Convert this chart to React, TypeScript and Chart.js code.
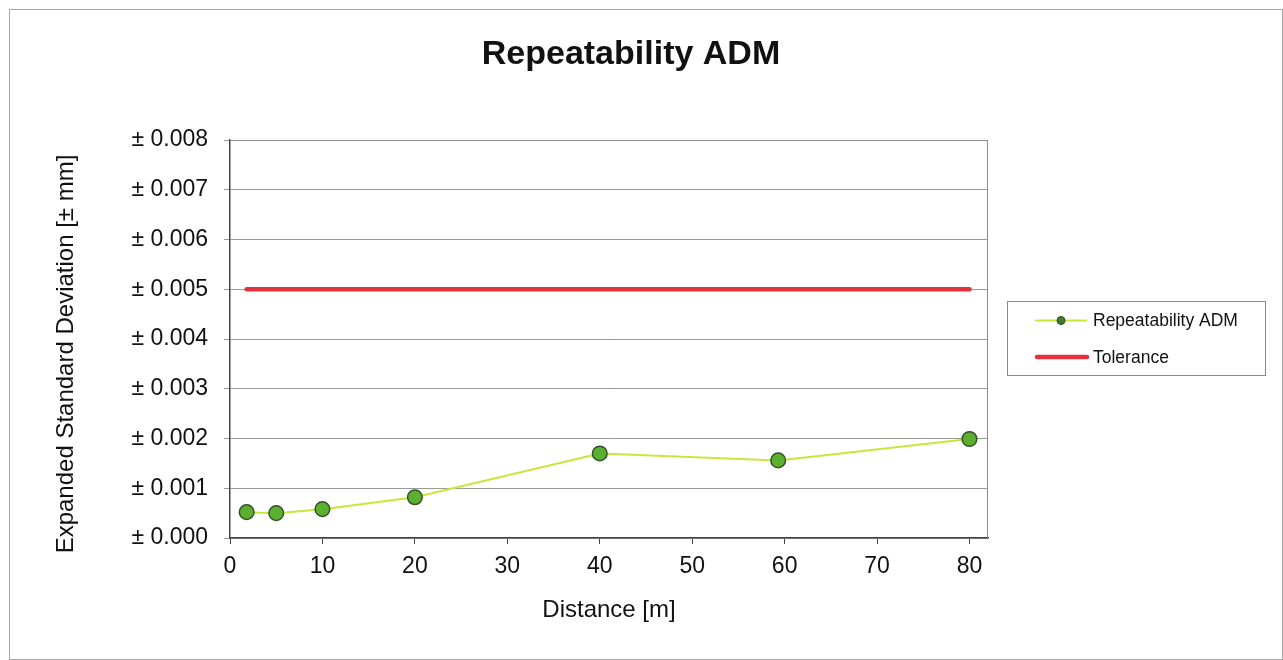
import React, { useEffect, useRef } from "react";
import { Chart, registerables } from "chart.js";

Chart.register(...registerables);

const chartTitle = "Repeatability ADM";
const xAxisTitle = "Distance [m]";
const yAxisTitle = "Expanded Standard Deviation [± mm]";

const xTickValues = [0, 10, 20, 30, 40, 50, 60, 70, 80];

const distances = [1.8, 5, 10, 20, 40, 59.3, 80];
const repeatability = [0.00052, 0.0005, 0.00058, 0.00082, 0.0017, 0.00156, 0.00199];

const toleranceDistances = [1.8, 80];
const toleranceValues = [0.005, 0.005];

const seriesNames = ["Repeatability ADM", "Tolerance"];

const FONT = "Arial, 'Liberation Sans', sans-serif";
const LINE_COLOR = "#c8e63c";
const MARKER_FILL = "#5cb030";
const MARKER_BORDER = "#34502a";
const TOL_COLOR = "#e2333d";

const plotFramePlugin = {
  id: "plotFrame",
  beforeDatasetsDraw(chart: any) {
    const { ctx, chartArea } = chart;
    ctx.save();
    ctx.strokeStyle = "#8c8c8c";
    ctx.lineWidth = 1;
    ctx.beginPath();
    ctx.moveTo(chartArea.left, chartArea.top + 0.5);
    ctx.lineTo(chartArea.right - 0.5, chartArea.top + 0.5);
    ctx.lineTo(chartArea.right - 0.5, chartArea.bottom);
    ctx.stroke();
    ctx.restore();
  },
};

const yTitlePlugin = {
  id: "yTitle",
  afterDraw(chart: any) {
    const { ctx } = chart;
    ctx.save();
    ctx.translate(56, 344);
    ctx.rotate(-Math.PI / 2);
    ctx.fillStyle = "#111";
    ctx.font = `24px ${FONT}`;
    ctx.textAlign = "center";
    ctx.textBaseline = "middle";
    ctx.fillText(yAxisTitle, 0, 0);
    ctx.restore();
  },
};

const customLegendPlugin = {
  id: "customLegend",
  afterDraw(chart: any) {
    const { ctx } = chart;
    const ds = chart.data.datasets;
    ctx.save();
    ctx.strokeStyle = "#8a8a8a";
    ctx.lineWidth = 1;
    ctx.strokeRect(997.5, 291.5, 258, 74);

    // entry 1
    const y1 = 310.5;
    ctx.strokeStyle = ds[0].borderColor;
    ctx.lineWidth = 2;
    ctx.beginPath();
    ctx.moveTo(1025, y1);
    ctx.lineTo(1077, y1);
    ctx.stroke();
    ctx.fillStyle = "#3f7a2e";
    ctx.strokeStyle = "#2c4a22";
    ctx.lineWidth = 1;
    ctx.beginPath();
    ctx.arc(1051, y1, 4, 0, Math.PI * 2);
    ctx.fill();
    ctx.stroke();

    // entry 2
    const y2 = 347;
    ctx.strokeStyle = ds[1].borderColor;
    ctx.lineWidth = 4.5;
    ctx.lineCap = "round";
    ctx.beginPath();
    ctx.moveTo(1027, y2);
    ctx.lineTo(1077, y2);
    ctx.stroke();

    ctx.fillStyle = "#111";
    ctx.font = `17.5px ${FONT}`;
    ctx.textBaseline = "middle";
    ctx.textAlign = "left";
    ctx.fillText(ds[0].label, 1083, y1 + 1);
    ctx.fillText(ds[1].label, 1083, y2 + 1);
    ctx.restore();
  },
};

export default function App() {
  const canvasRef = useRef<HTMLCanvasElement | null>(null);

  useEffect(() => {
    if (!canvasRef.current) return;
    const chart = new Chart(canvasRef.current, {
      type: "scatter",
      data: {
        datasets: [
          {
            label: seriesNames[0],
            data: distances.map((d, i) => ({ x: d, y: repeatability[i] })),
            showLine: true,
            borderColor: LINE_COLOR,
            borderWidth: 2,
            pointBackgroundColor: MARKER_FILL,
            pointBorderColor: MARKER_BORDER,
            pointBorderWidth: 1.5,
            pointRadius: 7.3,
            tension: 0,
            order: 1,
          },
          {
            label: seriesNames[1],
            data: toleranceDistances.map((d, i) => ({ x: d, y: toleranceValues[i] })),
            showLine: true,
            borderColor: TOL_COLOR,
            borderWidth: 4.5,
            borderCapStyle: "round",
            pointRadius: 0,
            order: 2,
          },
        ],
      },
      options: {
        responsive: false,
        animation: false,
        layout: { padding: { left: 0, right: 30, top: 0, bottom: 0 } },
        plugins: {
          legend: { display: false },
          tooltip: { enabled: false },
          title: {
            display: true,
            text: chartTitle,
            color: "#111",
            font: { family: FONT, size: 34, weight: "bold", lineHeight: 1.2 },
            padding: { top: 24, bottom: 65.2 },
          },
        },
        scales: {
          x: {
            type: "linear",
            min: 0,
            max: 82,
            afterFit(scale: any) {
              scale.height = 121;
            },
            afterBuildTicks(scale: any) {
              scale.ticks = xTickValues.map((v) => ({ value: v }));
            },
            ticks: {
              color: "#111",
              padding: 9,
              maxRotation: 0,
              autoSkip: false,
              font: { family: FONT, size: 23 },
            },
            grid: {
              drawOnChartArea: false,
              drawTicks: true,
              tickLength: 6,
              color: "#444",
            },
            border: { display: true, color: "#444", width: 1.5 },
            title: {
              display: true,
              text: xAxisTitle,
              color: "#111",
              font: { family: FONT, size: 24, lineHeight: 1.2 },
              padding: { top: 0, bottom: 34 },
            },
          },
          y: {
            type: "linear",
            min: 0,
            max: 0.008,
            afterFit(scale: any) {
              scale.width = 220;
            },
            ticks: {
              stepSize: 0.001,
              color: "#111",
              padding: 16,
              font: { family: FONT, size: 23 },
              callback: (v: any) => "± " + Number(v).toFixed(3),
            },
            grid: {
              color: "#9a9a9a",
              lineWidth: 1,
              drawTicks: true,
              tickLength: 6,
            },
            border: { display: true, color: "#444", width: 1.5 },
            title: { display: false, text: yAxisTitle },
          },
          legendSpace: {
            type: "linear",
            position: "right",
            display: true,
            afterFit(scale: any) {
              scale.width = 264;
            },
            ticks: { display: false },
            grid: { display: false, drawTicks: false },
            border: { display: false },
          },
        },
      },
      plugins: [plotFramePlugin, customLegendPlugin, yTitlePlugin],
    } as any);
    return () => chart.destroy();
  }, []);

  return (
    <div
      style={{
        position: "absolute",
        left: 9,
        top: 9,
        width: 1272,
        height: 649,
        border: "1px solid #a8a8a8",
        background: "#fff",
      }}
    >
      <canvas ref={canvasRef} width={1272} height={649} style={{ display: "block" }} />
    </div>
  );
}
